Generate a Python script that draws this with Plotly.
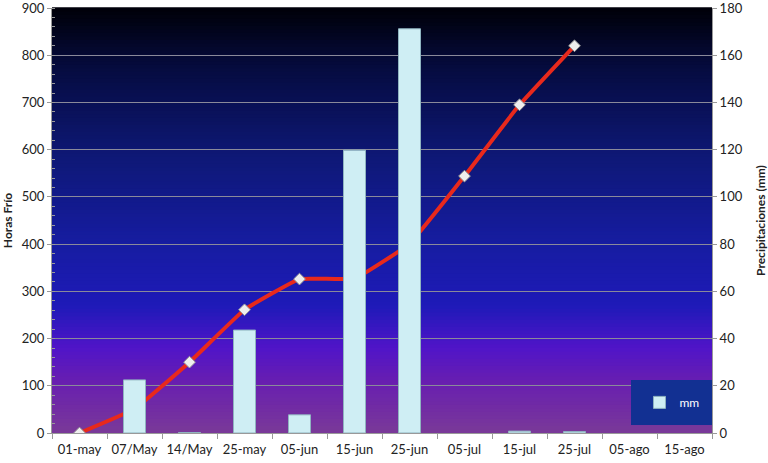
import plotly.graph_objects as go

fechas = ["01-may", "07/May", "14/May", "25-may", "05-jun", "15-jun",
          "25-jun", "05-jul", "15-jul", "25-jul", "05-ago", "15-ago"]
horas_frio = [0, 51, 150, 261, 326, 327, 401, 544, 695, 820, None, None]
precip_mm = [None, 22.5, 0.2, 43.6, 7.7, 119.8, 171.2, None, 0.8, 0.6, None, None]

# vertical background gradient (bottom -> top), drawn as thin bands
stops = [(0.0, (122, 58, 152)), (0.12, (104, 30, 176)), (0.2, (80, 20, 200)),
         (0.3, (30, 26, 184)), (0.45, (22, 28, 160)), (0.65, (14, 24, 118)),
         (0.85, (6, 12, 66)), (1.0, (0, 0, 8))]

def grad(t):
    for (t0, c0), (t1, c1) in zip(stops, stops[1:]):
        if t0 <= t <= t1:
            f = (t - t0) / (t1 - t0)
            return "rgb(%d,%d,%d)" % tuple(round(a + (b - a) * f) for a, b in zip(c0, c1))
    return "rgb(0,0,8)"

n = 120
shapes = []
for i in range(n):
    shapes.append(dict(type="rect", xref="paper", yref="paper", x0=0, x1=1,
                       y0=i / n, y1=(i + 1) / n + 0.002, line=dict(width=0),
                       fillcolor=grad((i + 0.5) / n), layer="below"))

fig = go.Figure()
fig.add_trace(go.Bar(
    x=fechas, y=precip_mm, name="mm", yaxis="y2", width=0.4,
    marker=dict(color="#cfeef4", line=dict(color="#8fb4c0", width=1)),
))
fig.add_trace(go.Scatter(
    x=fechas, y=horas_frio, name="Horas Frío", mode="lines+markers",
    line=dict(color="#e8291c", width=4, shape="spline", smoothing=0.3),
    marker=dict(symbol="diamond", size=9, color="#eeeeee", line=dict(color="#999999", width=1)),
    showlegend=False,
))

font = dict(family="Lato, Open Sans, sans-serif", size=13, color="#222222")
fig.update_layout(
    width=768, height=463,
    margin=dict(l=52, r=56, t=8, b=30),
    paper_bgcolor="white", plot_bgcolor="rgba(0,0,0,0)",
    shapes=shapes, font=font, bargap=0.6,
    xaxis=dict(type="category", range=[-0.5, len(fechas) - 0.5],
               tickson="boundaries", ticks="outside", ticklen=5,
               tickcolor="#999999", showline=True, linecolor="#999999",
               showgrid=False, automargin=False, tickangle=0, ticklabelstandoff=4),
    yaxis=dict(range=[0, 900], dtick=100, ticks="outside", ticklen=4,
               tickcolor="#999999", showline=True, linecolor="#999999",
               showgrid=True, gridcolor="#8a8a9a", gridwidth=1, zeroline=False,
               automargin=False, ticklabeloverflow="allow",
               minor=dict(dtick=20, ticks="inside", ticklen=3, tickcolor="#999999", showgrid=False),
               title=dict(text="<b>Horas Frío</b>", font=dict(size=12))),
    yaxis2=dict(range=[0, 180], dtick=20, overlaying="y", side="right",
                ticks="outside", ticklen=4, tickcolor="#999999", showline=True,
                linecolor="#999999", showgrid=False, zeroline=False, automargin=False,
                ticklabeloverflow="allow",
                title=dict(text="<b>Precipitaciones (mm)</b>", font=dict(size=12))),
    legend=dict(x=0.878, y=0.125, xanchor="left", yanchor="top",
                bgcolor="#123092", bordercolor="#123092", borderwidth=8,
                font=dict(color="white", size=12)),
)

# drop the default page margin so the figure sits at the window corner
fig.write_html("out.html", config={"displayModeBar": False},
               post_script="document.body.style.margin='0';")
